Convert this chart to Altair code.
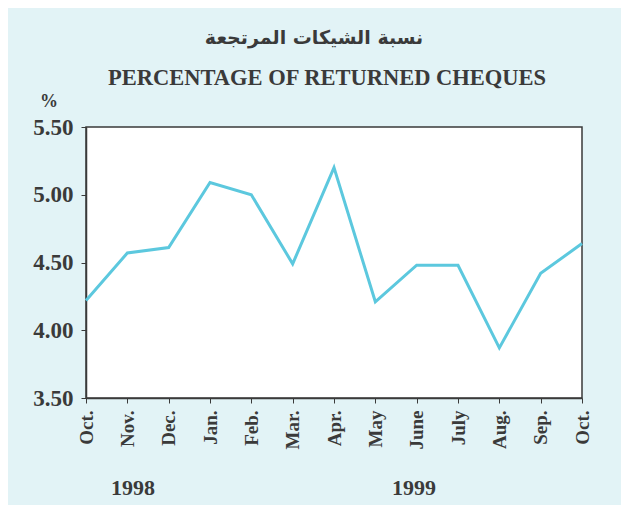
import json
import altair as alt
import pandas as pd

months = ["Oct.", "Nov.", "Dec.", "Jan.", "Feb.", "Mar.", "Apr.", "May", "June", "July", "Aug.", "Sep.", "Oct."]
values = [4.22, 4.57, 4.61, 5.09, 5.00, 4.49, 5.20, 4.21, 4.48, 4.48, 3.87, 4.42, 4.64]
title_ar = "نسبة الشيكات المرتجعة"
title_en = "PERCENTAGE OF RETURNED CHEQUES"
years = ["1998", "1999"]
y_ticks = [3.5, 4.0, 4.5, 5.0, 5.5]

df = pd.DataFrame({"idx": list(range(len(months))), "val": values})

label_expr = json.dumps(months) + "[datum.value]"

SERIF = "Liberation Serif"
DARK = "#3a3a3a"

line = alt.Chart(df).mark_line(color="#5cc8de", strokeWidth=3).encode(
    x=alt.X("idx:Q", scale=alt.Scale(domain=[0, 12], nice=False, zero=False),
            axis=alt.Axis(values=list(range(13)), labelExpr=label_expr, labelAngle=-90,
                          labelFont=SERIF, labelFontWeight="bold", labelFontSize=19,
                          labelColor=DARK, labelPadding=7, tickColor=DARK, tickSize=5,
                          domainColor=DARK, domainWidth=1.5, grid=False,
                          title=None, labelOverlap=False, labelBound=False)),
    y=alt.Y("val:Q", scale=alt.Scale(domain=[3.5, 5.5], nice=False, zero=False),
            axis=alt.Axis(values=y_ticks, format=".2f", labelFont=SERIF, labelFontWeight="bold",
                          labelFontSize=23, labelColor=DARK, labelPadding=8, tickColor=DARK,
                          tickSize=5, domainColor=DARK, domainWidth=1.5, grid=False,
                          title=None, labelOverlap=False, labelBound=False)),
)

def txt(text, x, y, size, font, weight="bold"):
    return alt.Chart(pd.DataFrame({"t": [text]})).mark_text(
        font=font, fontSize=size, fontWeight=weight, color=DARK, align="center", baseline="middle"
    ).encode(text="t:N", x=alt.value(x), y=alt.value(y))

ar = txt(title_ar, 228, -89, 19, "DejaVu Sans")
en = txt(title_en, 241, -49, 22.5, SERIF)
pct = txt("%", -37, -25, 18, SERIF)
y1 = txt(years[0], 47, 361, 22, SERIF)
y2 = txt(years[1], 328, 361, 22, SERIF)

chart = alt.layer(line, ar, en, pct, y1, y2).properties(
    width=496, height=271,
    background="#e2f3f6",
    padding={"left": 78, "top": 119, "right": 39, "bottom": 107},
    autosize=alt.AutoSizeParams(type="none"),
).configure_view(fill="white", stroke=DARK, strokeWidth=1.5)

chart.save("out.html", embed_options={"renderer": "svg", "actions": False})
